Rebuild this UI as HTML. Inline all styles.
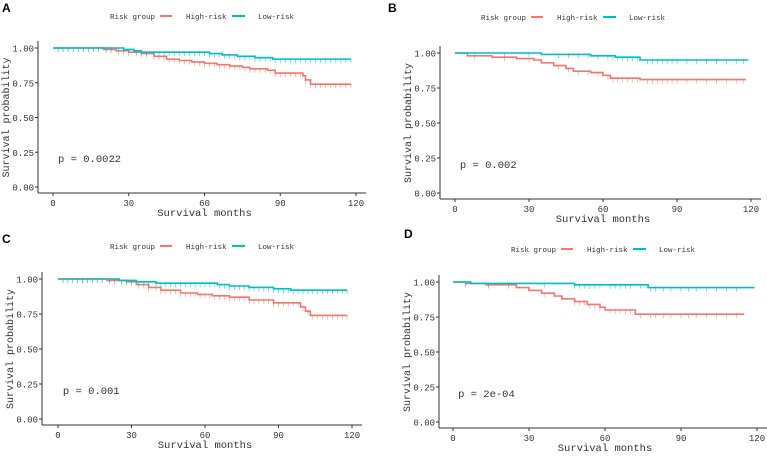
<!DOCTYPE html>
<html><head><meta charset="utf-8"><style>
body{margin:0;background:#fff;width:767px;height:456px;overflow:hidden}
svg{display:block}
text{font-family:"Liberation Mono","Noto Serif CJK SC",monospace;fill:#333}
</style></head><body>
<svg id="c" width="767" height="456"></svg>
<script>
// Panel data: step times and survival values, censor times
const aHighT=[0,20,25,30,35,40,45,50,55,60,65,70,75,78,85,88,99,100,102,118];
const aHighS=[1,0.99,0.98,0.97,0.96,0.94,0.92,0.91,0.90,0.89,0.88,0.87,0.86,0.85,0.84,0.82,0.80,0.77,0.74,0.74];
const aLowT=[0,28,32,35,62,67,73,80,87,118];
const aLowS=[1,0.99,0.98,0.97,0.96,0.95,0.94,0.93,0.92,0.92];
const bHighT=[0,5,15,25,32,35,40,45,48,55,60,63,75,118];
const bHighS=[1,0.98,0.97,0.96,0.95,0.93,0.91,0.89,0.87,0.86,0.84,0.82,0.81,0.81];
const bLowT=[0,35,55,65,75,119];
const bLowS=[1,0.99,0.98,0.97,0.95,0.95];
const cHighT=[0,20,28,32,37,42,50,57,63,70,78,88,99,101,103,118];
const cHighS=[1,0.99,0.98,0.96,0.94,0.92,0.90,0.89,0.88,0.87,0.85,0.83,0.80,0.77,0.74,0.74];
const cLowT=[0,25,32,40,65,70,78,88,95,118];
const cLowS=[1,0.99,0.98,0.97,0.96,0.95,0.94,0.93,0.92,0.92];
const dHighT=[0,5,13,25,30,35,40,43,48,53,58,60,72,115];
const dHighS=[1,0.99,0.98,0.96,0.94,0.92,0.90,0.88,0.86,0.84,0.82,0.80,0.77,0.77];
const dLowT=[0,7,48,77,119];
const dLowS=[1,0.99,0.98,0.96,0.96];
const censA=[2,4,6,8,10,12,14,16,18,21,23,26,28,30,33,35,37,40,42,44,46,48,50,52,54,56,58,60,62,64,66,68,70,72,74,76,78,80,82,84,86,88,90,92,94,96,98,100,102,104,106,108,110,112,114,116,118];
const censB=[8,20,30,42,46,50,54,58,62,64,66,68,70,72,74,78,80,82,84,86,88,90,94,98,102,106,110,114,117];
const censD=[5,14,22,36,48,50,52,54,56,58,62,64,66,68,70,74,78,80,83,86,90,93,96,100,104,108,112];
const xTicks=[0,30,60,90,120];
const yTicks=[0,0.25,0.5,0.75,1];
const yLabels=["0.00","0.25","0.50","0.75","1.00"];
const pvals=["p = 0.0022","p = 0.002","p = 0.001","p = 2e-04"];

const svg=document.getElementById('c');
const NS='http://www.w3.org/2000/svg';
function mk(tag,at,parent){const e=document.createElementNS(NS,tag);for(const k in at)e.setAttribute(k,at[k]);(parent||svg).appendChild(e);return e;}
function txt(s,at,parent){const e=mk('text',at,parent);e.textContent=s;return e;}

const panels=[
 {L:'A',lx:2,ly:12,x0:53,x1:356,y1:48,y0:187,ax:38,ab:193,leg:[110,19],ht:aHighT,hs:aHighS,lt:aLowT,ls:aLowS,cens:censA},
 {L:'B',lx:388,ly:12,x0:455,x1:751,y1:53,y0:193,ax:440,ab:199,leg:[481,20],ht:bHighT,hs:bHighS,lt:bLowT,ls:bLowS,cens:censB},
 {L:'C',lx:2,ly:243,x0:58,x1:352,y1:279,y0:419,ax:42,ab:425,leg:[110,249],ht:cHighT,hs:cHighS,lt:cLowT,ls:cLowS,cens:censA},
 {L:'D',lx:404,ly:238,x0:453,x1:757,y1:282,y0:422,ax:439,ab:428,leg:[511,252],ht:dHighT,hs:dHighS,lt:dLowT,ls:dLowS,cens:censD}
];

function stepAt(T,S,t){let v=S[0];for(let i=0;i<T.length;i++){if(T[i]<=t)v=S[i];}return v;}

panels.forEach((p,pi)=>{
 const g=mk('g',{});
 
 
 const X=t=>p.x0+(p.x1-p.x0)*t/120, Y=s=>p.y0-(p.y0-p.y1)*s;
 const lab=txt(p.L,{x:p.lx,y:p.ly,'font-size':'12',style:'font-family:Liberation Sans;font-weight:bold;fill:#000'},g);
 
 
 const lg=mk('g',{},g);
 
 
 const [lx,ly]=p.leg;
 txt('Risk group',{x:lx,y:ly,'font-size':'7.5'},lg);
 mk('line',{x1:lx+50,x2:lx+62,y1:ly-3,y2:ly-3,stroke:'#F8766D','stroke-width':2},lg);
 txt('High-risk',{x:lx+76,y:ly,'font-size':'7.5'},lg);
 mk('line',{x1:lx+122,x2:lx+135,y1:ly-3,y2:ly-3,stroke:'#00BFC4','stroke-width':2},lg);
 txt('Low-risk',{x:lx+148,y:ly,'font-size':'7.5'},lg);
 mk('line',{x1:p.ax,x2:p.ax,y1:p.y1-7,y2:p.ab,stroke:'#333','stroke-width':1},g);
 mk('line',{x1:p.ax,x2:p.x1+10,y1:p.ab,y2:p.ab,stroke:'#333','stroke-width':1},g);
 xTicks.forEach(t=>{mk('line',{x1:X(t),x2:X(t),y1:p.ab,y2:p.ab+3,stroke:'#333'},g);
  txt(String(t),{x:X(t),y:p.ab+13,'font-size':'9','text-anchor':'middle',fill:'#4d4d4d'},g);});
 yTicks.forEach((v,i)=>{mk('line',{x1:p.ax-3,x2:p.ax,y1:Y(v),y2:Y(v),stroke:'#333'},g);
  txt(yLabels[i],{x:p.ax-4,y:Y(v)+3.5,'font-size':'9','text-anchor':'end',fill:'#4d4d4d'},g);});
 const xt=txt('Survival months',{x:(p.x0+p.x1)/2,y:p.ab+23,'font-size':'10.5','text-anchor':'middle',fill:'#000'},g);
 
 
 const ym=(p.y0+p.y1)/2;
 const yt=txt('Survival probability',{x:0,y:0,'font-size':'10','text-anchor':'middle',fill:'#000',transform:`translate(${p.ax-29},${ym}) rotate(-90)`},g);
 
 
 const pv=txt(pvals[pi],{x:X(2),y:Y(0.18),'font-size':'10.5',fill:'#000'},g);
 
 
 [[p.ht,p.hs,'#F8766D','high-risk'],[p.lt,p.ls,'#00BFC4','low-risk']].forEach(([T,S,col,nm])=>{
  let d=`M${X(T[0])},${Y(S[0])}`;
  for(let i=1;i<T.length;i++){d+=` H${X(T[i])} V${Y(S[i])}`;}
  const path=mk('path',{d:d,fill:'none',stroke:col,'stroke-width':1.6},g);
  
  
  const end=T[T.length-1];
  p.cens.forEach(t=>{if(t>end)return;const s=stepAt(T,S,t);
   const m=mk('line',{x1:X(t),x2:X(t),y1:Y(s)-1,y2:Y(s)+4,stroke:col,'stroke-width':0.7,opacity:0.7},g);
   
   });
 });
});
</script>
</body></html>
